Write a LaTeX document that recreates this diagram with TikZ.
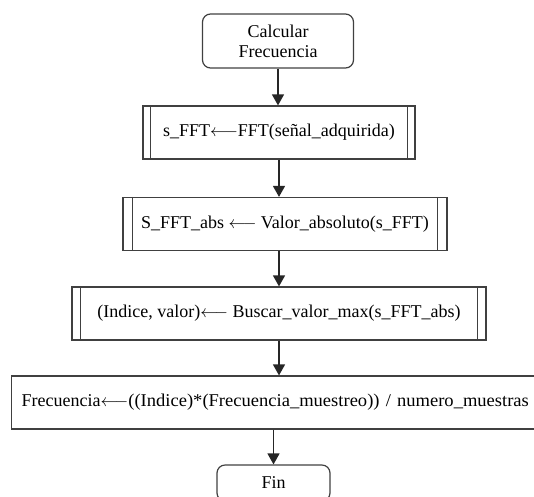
\documentclass[tikz,border=0pt]{standalone}
\usepackage{fontspec}
\setmainfont{Liberation Serif}
\usetikzlibrary{arrows.meta}

\begin{document}
\begin{tikzpicture}[x=1pt,y=-1pt,
    font=\fontsize{18}{20}\selectfont,
    term/.style={draw=black!75, line width=1.2pt, rounded corners=8pt,
                 minimum width=151pt, minimum height=54pt, align=center, inner sep=0pt},
    subproc/.style={draw=black!75, line width=1.2pt, minimum height=53pt, inner sep=0pt},
    proc/.style={draw=black!75, line width=1.2pt, minimum height=53pt, inner xsep=7pt},
    flecha/.style={draw=black!85, line width=1.3pt, -{Triangle[width=12pt,length=11pt]}}]
    \useasboundingbox (0,0) rectangle (534,496);
    \clip (0,0) rectangle (534,496);

    \node[term] (inicio) at (278,41) {Calcular\\Frecuencia};
    \node[subproc, minimum width=272pt] (fft) at (279,132.5)
        {s\_FFT$\longleftarrow$FFT(señal\_adquirida)};
    \node[subproc, minimum width=324pt] (abs) at (285,224)
        {S\_FFT\_abs $\longleftarrow$ Valor\_absoluto(s\_FFT)};
    \node[subproc, minimum width=414pt] (maxv) at (279,313.5)
        {(Indice, valor)$\longleftarrow$ Buscar\_valor\_max(s\_FFT\_abs)};
    \node[proc, anchor=west, minimum width=600pt, text width=580pt, align=left] (frec) at (11,402.5)
        {Frecuencia$\longleftarrow$\scalebox{1.03}[1]{((Indice)*(Frecuencia\_muestreo)) / numero\_muestras}};
    \node[term, minimum width=113pt, minimum height=36pt] (fin) at (273.5,483) {Fin};

    % lineas dobles de los subprocesos
    \foreach \n/\d in {fft/8,abs/10,maxv/9}{
        \draw[draw=black!75, line width=1.2pt] ([xshift=\d pt]\n.north west) -- ([xshift=\d pt]\n.south west);
        \draw[draw=black!75, line width=1.2pt] ([xshift=-\d pt]\n.north east) -- ([xshift=-\d pt]\n.south east);
    }

    \draw[flecha] (inicio.south) -- (inicio.south |- fft.north);
    \draw[flecha] (fft.south) -- (fft.south |- abs.north);
    \draw[flecha] (fft.south |- abs.south) -- (fft.south |- maxv.north);
    \draw[flecha] (maxv.south) -- (maxv.south |- frec.north);
    \draw[flecha] (frec.south -| fin.north) -- (fin.north);
\end{tikzpicture}
\end{document}
